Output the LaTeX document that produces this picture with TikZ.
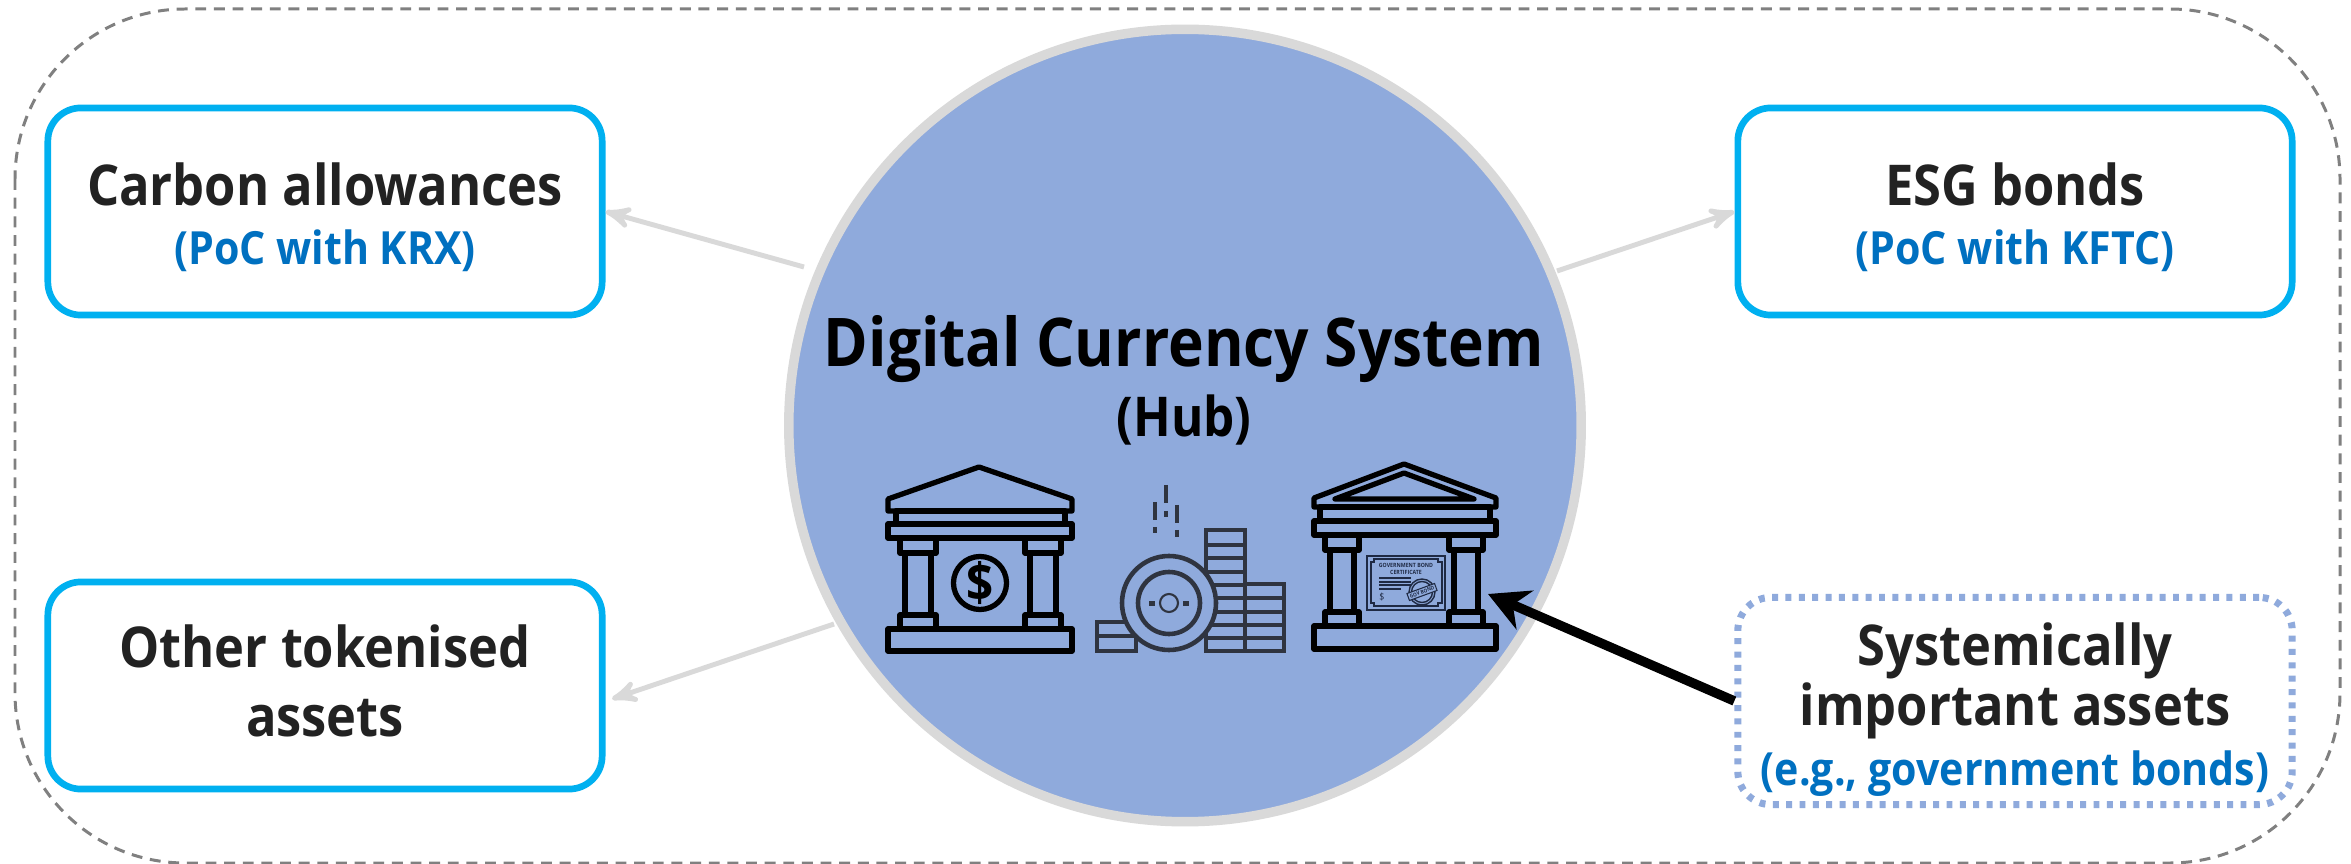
\documentclass[tikz,border=0pt]{standalone}
\usepackage{fontspec}
\setmainfont{Open Sans}[FakeStretch=0.9]
\usepackage{xcolor}
\usetikzlibrary{arrows,arrows.meta,positioning}
\tikzset{>=stealth'}
\definecolor{hubblue}{HTML}{8FAADC}
\definecolor{boxcyan}{HTML}{00B0F0}
\definecolor{subblue}{HTML}{0070C0}
\definecolor{ringgray}{HTML}{D9D9D9}
\definecolor{inkgray}{HTML}{222222}
\definecolor{coinink}{HTML}{2F3440}
\definecolor{certink}{HTML}{1F2A44}
\newcommand{\titlefont}{\fontsize{16}{21}\selectfont\bfseries\color{inkgray}}
\newcommand{\subfont}{\fontsize{13}{17}\selectfont\bfseries\color{subblue}}

\begin{document}
\begin{tikzpicture}[x=0.01cm,y=-0.01cm,
                          outer/.style={line width=0.85pt, draw=black!50, dash pattern=on 3.1pt off 2.2pt, rounded corners=1.7cm},
                          assetbox/.style={draw=boxcyan, line width=1.9pt, fill=white, rounded corners=0.33cm, minimum width=5.54cm, minimum height=2.07cm, inner sep=1pt, align=center},
                          sysbox/.style={assetbox, draw=hubblue, line width=2pt, dash pattern=on 1.7pt off 2.1pt},
                          hubdisc/.style={circle, draw=ringgray, line width=2.7pt, fill=hubblue, minimum size=7.92cm},
                          link/.style={->, line width=1.4pt, ringgray},
                          bigarrow/.style={-{Stealth[length=0.4cm,width=0.42cm]}, line width=2.7pt, black},
                          bank/.style={line width=1.5pt, black, line join=round},
                          coin/.style={line width=1.3pt, coinink},
                          cert/.style={line width=0.4pt, certink},
                         ]

\useasboundingbox (0,0) rectangle (2351,864);
\fill[white] (0,0) rectangle (2351,864);

\draw[outer] (15,9) rectangle (2340,863);

\node[hubdisc] (hub) at (1185,425.5) {};

\node[assetbox] (carbon) at (325,211.5) {\rule{0pt}{15.5pt}{\titlefont Carbon allowances}\\[4.7pt]{\subfont (PoC with KRX)}};
\node[assetbox] (esg) at (2015,211.5) {\rule{0pt}{15.5pt}{\titlefont ESG bonds}\\[4.7pt]{\subfont (PoC with KFTC)}};
\node[assetbox] (other) at (325,685.5) {{\titlefont Other tokenised}\\[7.7pt]{\titlefont assets\rule[-2.8pt]{0pt}{2.8pt}}};
\node[sysbox] (sys) at (2015,701) {\rule{0pt}{17pt}{\titlefont Systemically}\\{\titlefont important assets}\\[2.3pt]{\subfont (e.g., government bonds)}};

\node (hubtitle) at (1184,349) {\fontsize{19.1}{24}\selectfont\bfseries Digital Currency System};
\node (hubnote) at (1184,420) {\fontsize{15.6}{18}\selectfont\bfseries (Hub)};

\coordinate (c1) at (804,267);
\coordinate (c2) at (1557,271);
\coordinate (c3) at (834,624);
\coordinate (c4) at (612,699);
\coordinate (c5) at (1488,594);

\draw[link] (c1) -- (carbon.east);
\draw[link] (c2) -- (esg.west);
\draw[link] (c3) -- (c4);

% left bank
\draw[bank] (888,499) -- (979,467) -- (1072,499) -- (1072,511) -- (888,511) -- cycle;
\draw[bank] (896,511) rectangle (1065,524);
\draw[bank] (888,524) rectangle (1072,538);
\foreach \x in {918,1043} {
  \draw[bank] (\x-18,538) rectangle (\x+18,553);
  \draw[bank] (\x-13,553) rectangle (\x+13,615);
  \draw[bank] (\x-18,615) rectangle (\x+18,629);
}
\draw[bank] (888,629) rectangle (1072,651);
\node[circle, draw=black, line width=1.5pt, minimum size=0.53cm, inner sep=0pt, font=\fontsize{15}{15}\selectfont\bfseries] (dollar) at (980,583) {\$};

% coins
\foreach \x/\a/\b in {1166/485/503,1166/511/517,1155/502/520,1155/527/533,1177/505/523,1177/530/537} {
  \draw[coin] (\x,\a) -- (\x,\b);
}
\draw[coin] (1097,622) rectangle (1136,651);
\draw[coin] (1097,636) -- (1136,636);
\draw[coin] (1206,530) rectangle (1245,651);
\draw[coin] (1245,584) rectangle (1284,651);
\foreach \y in {545,558,572,585,598,612,625,638} {
  \draw[coin] (1206,\y) -- (1245,\y);
}
\foreach \y in {598,612,625,638} {
  \draw[coin] (1245,\y) -- (1284,\y);
}
\draw[coin, fill=hubblue] (1169,603) circle (47);
\draw[coin] (1169,603) circle (31);
\draw[coinink, line width=0.6pt] (1169,603) circle (9);
\fill[coinink] (1149,601) rectangle (1155,606);
\fill[coinink] (1183,601) rectangle (1189,606);

% right bank with certificate
\draw[bank] (1314,498) -- (1404,464) -- (1496,498) -- (1496,507) -- (1314,507) -- cycle;
\draw[bank] (1335,499) -- (1404,473) -- (1474,499) -- cycle;
\draw[bank] (1320,507) rectangle (1490,521);
\draw[bank] (1314,521) rectangle (1496,535);
\foreach \x in {1342,1466} {
  \draw[bank] (\x-17,535) rectangle (\x+17,550);
  \draw[bank] (\x-12,550) rectangle (\x+12,612);
  \draw[bank] (\x-17,612) rectangle (\x+17,626);
}
\draw[bank] (1314,626) rectangle (1496,649);

\draw[cert] (1367,556) rectangle (1445,610);
\draw[cert] (1374,559) -- (1438,559) -- (1438,562) -- (1442,562) -- (1442,603) -- (1438,603) -- (1438,606) -- (1374,606) -- (1374,603) -- (1371,603) -- (1371,562) -- (1374,562) -- cycle;
\node[inner sep=0pt, align=center, text=certink, font=\fontsize{1.65}{2.1}\selectfont\bfseries] (certtitle) at (1406,569) {GOVERNMENT BOND\\CERTIFICATE};
\foreach \y/\e in {578/1411,582/1411,585/1411,589/1401} {
  \draw[cert] (1379,\y) -- (\e,\y);
}
\node[inner sep=0pt, text=certink, font=\fontsize{2.8}{3}\selectfont] (certprice) at (1382,597) {\$};
\draw[cert] (1422,592) circle (13);
\draw[cert] (1422,592) circle (10.5);
\node[rotate=20, draw=certink, line width=0.3pt, fill=hubblue, inner sep=0.5pt, text=certink, font=\fontsize{1.5}{2}\selectfont\bfseries] (certstamp) at (1422,592) {GOV BOND};

\draw[bigarrow] (sys.west) -- (c5);

\end{tikzpicture}
\end{document}
